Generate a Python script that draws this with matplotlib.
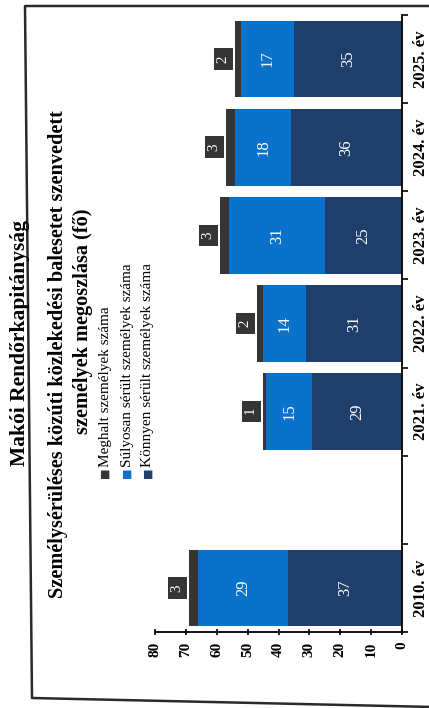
import matplotlib.pyplot as plt
import numpy as np
from matplotlib.lines import Line2D

# chart is a scanned page turned on its side: the value axis runs right-to-left
categories = ["2010. év", "", "2021. év", "2022. év", "2023. év", "2024. év", "2025. év"]
konnyen = [37, np.nan, 29, 31, 25, 36, 35]
sulyos = [29, np.nan, 15, 14, 31, 18, 17]
meghalt = [3, np.nan, 1, 2, 3, 3, 2]
series_names = [
    "Meghalt személyek száma",
    "Súlyosan sérült személyek száma",
    "Könnyen sérült személyek száma",
]
value_ticks = [0, 10, 20, 30, 40, 50, 60, 70, 80]

title = "Makói Rendőrkapitányság"
subtitle_lines = [
    "Személysérüléses közúti közlekedési balesetet szenvedett",
    "személyek megoszlása (fő)",
]

c_dead = "#353535"
c_severe = "#0B72CC"
c_light = "#1F3E6B"

plt.rcParams["font.family"] = ["Liberation Serif", "DejaVu Serif"]

W, H = 429, 708


def fx(px):
    return px / W


def fy(py):
    return 1 - py / H


def main():
    fig = plt.figure(figsize=(W / 100, H / 100), dpi=100)
    ax = fig.add_axes([fx(155), fy(632), fx(402 - 155), (632 - 15) / H])

    pos = np.arange(len(categories))
    k = np.array(konnyen, dtype=float)
    s = np.array(sulyos, dtype=float)
    d = np.array(meghalt, dtype=float)

    ax.barh(pos, k, height=0.87, color=c_light)
    ax.barh(pos, s, left=k, height=0.87, color=c_severe)
    ax.barh(pos, d, left=k + s, height=0.87, color=c_dead)

    for i in pos:
        if np.isnan(k[i]):
            continue
        ax.text(k[i] / 2, i, f"{k[i]:.0f}", rotation=90, ha="center",
                va="center", color="white", fontsize=12)
        ax.text(k[i] + s[i] / 2, i, f"{s[i]:.0f}", rotation=90, ha="center",
                va="center", color="white", fontsize=12)
        ax.text(k[i] + s[i] + d[i] + 3.7, i, f" {d[i]:.0f} ", rotation=90,
                ha="center", va="center", color="white", fontsize=11,
                bbox=dict(boxstyle="square,pad=0.2", fc=c_dead, ec="none"))

    ax.set_xlim(80, 0)
    ax.set_ylim(-0.5, len(categories) - 0.5)

    ax.spines[["top", "left"]].set_visible(False)
    ax.spines["right"].set_linewidth(1.3)
    ax.spines["bottom"].set_linewidth(1.3)

    ax.set_xticks(value_ticks)
    ax.set_xticklabels([str(v) for v in value_ticks], rotation=90,
                       fontsize=11, fontweight="bold")
    ax.tick_params(axis="x", length=4, width=1.2, direction="inout", pad=5)

    ax.yaxis.tick_right()
    ax.set_yticks(pos)
    ax.set_yticklabels(categories, rotation=90, va="center",
                       fontsize=12, fontweight="bold")
    ax.set_yticks(np.arange(len(categories) + 1) - 0.5, minor=True)
    ax.tick_params(axis="y", which="major", length=0, pad=8)
    ax.tick_params(axis="y", which="minor", length=4, width=1.2, direction="out")

    # legend, drawn by hand so it can be turned with the page
    colors = [c_dead, c_severe, c_light]
    for name, col, x in zip(series_names, colors, [105, 127, 148]):
        fig.text(fx(x), fy(478), "■", color=col, rotation=90, fontsize=8,
                 ha="center", va="bottom", family="DejaVu Sans")
        fig.text(fx(x), fy(467), name, rotation=90, fontsize=11,
                 ha="center", va="bottom")

    fig.text(fx(20), fy(343), title, rotation=90, ha="center", va="center",
             fontsize=15.5, fontweight="bold")
    fig.text(fx(58), fy(354), subtitle_lines[0], rotation=90, ha="center",
             va="center", fontsize=14.6, fontweight="bold")
    fig.text(fx(83), fy(321), subtitle_lines[1], rotation=90, ha="center",
             va="center", fontsize=14.6, fontweight="bold")

    # scanned page frame
    frame_x = [W + 5, 25, 32, W + 5]
    frame_y = [6, 6, 698, 707]
    fig.add_artist(Line2D([fx(v) for v in frame_x], [fy(v) for v in frame_y],
                          color="#2a2a2a", linewidth=1.8))

    fig.savefig("out.png", dpi=100)


if __name__ == "__main__":
    main()
